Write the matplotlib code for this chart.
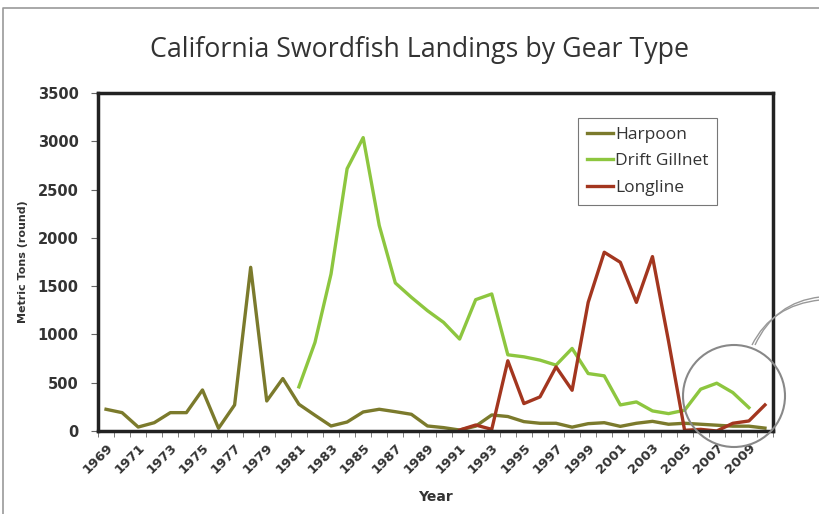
import matplotlib.pyplot as plt
import numpy as np
from matplotlib.patches import Circle, PathPatch
from matplotlib.path import Path
from matplotlib.lines import Line2D

years = list(range(1969, 2011))

harpoon = [225, 190, 41, 86, 190, 190, 425, 28, 270, 1695, 311, 543, 277, 163,
           52, 93, 197, 225, 200, 173, 52, 35, 10, 50, 166, 150, 97, 80, 80,
           40, 76, 86, 48, 80, 100, 70, 80, 70, 60, 50, 50, 30]

gill_years = list(range(1981, 2010))
gillnet = [457, 917, 1626, 2716, 3038, 2128, 1533, 1384, 1246, 1125, 952,
           1360, 1419, 789, 768, 734, 682, 855, 595, 571, 270, 301, 208, 180,
           215, 433, 495, 398, 242]

long_years = list(range(1991, 2011))
longline = [10, 62, 17, 727, 284, 353, 664, 422, 1332, 1851, 1747, 1332, 1806,
            930, 7, 17, 0, 80, 104, 270]

c_harpoon = '#7b7a2c'
c_gill = '#8dc63f'
c_long = '#a3361f'

W, H = 820, 514
fig = plt.figure(figsize=(8.2, 5.14), dpi=100)
ax = fig.add_axes([98 / W, 1 - 431 / H, 675 / W, 338 / H])

ax.plot(years, harpoon, color=c_harpoon, lw=2.4, label='Harpoon')
ax.plot(gill_years, gillnet, color=c_gill, lw=2.4, label='Drift Gillnet')
ax.plot(long_years, longline, color=c_long, lw=2.4, label='Longline')

ax.set_xlim(1968.5, 2010.5)
ax.set_ylim(0, 3500)
ax.set_yticks(range(0, 3501, 500))
ax.set_xticks(range(1969, 2011, 2))
ax.set_xticklabels([str(y) for y in range(1969, 2011, 2)], rotation=45,
                   ha='right', va='top', rotation_mode='anchor',
                   fontsize=9.5, fontweight='bold', color='#333333')
ax.set_xticks(np.arange(1968.5, 2011, 1), minor=True)
ax.tick_params(axis='x', which='major', length=0, pad=7)
ax.tick_params(axis='x', which='minor', length=4, color='#666666', direction='out')
ax.tick_params(axis='y', length=5, color='#666666', direction='out', pad=9)
for lab in ax.get_yticklabels():
    lab.set_fontweight('bold')
    lab.set_fontsize(10.5)
    lab.set_color('#333333')

for s in ax.spines.values():
    s.set_linewidth(2.5)
    s.set_color('#222222')

ax.set_ylabel('Metric Tons (round)', fontsize=8, fontweight='bold', color='#333333')
ax.yaxis.set_label_coords(-0.104, 0.5)
ax.set_xlabel('Year', fontsize=10, fontweight='bold', color='#333333', labelpad=10)

leg = ax.legend(loc='upper left', bbox_to_anchor=(0.711, 0.926), frameon=True,
                fancybox=False, handlelength=1.5, handletextpad=0.15,
                borderpad=0.5, labelspacing=0.6, borderaxespad=0,
                prop={'family': 'Open Sans', 'size': 12.5})
leg.get_frame().set_edgecolor('#555555')
leg.get_frame().set_linewidth(0.8)
for t in leg.get_texts():
    t.set_color('#333333')

fig.text(0.512, 1 - 50 / H, 'California Swordfish Landings by Gear Type',
         ha='center', va='center', fontsize=19.3, color='#333333', family='Open Sans')

# callout circle and connector (pixel coords, origin bottom-left)
fig.patches.append(Circle((734, H - 396), 51, transform=None, fill=False,
                          edgecolor='#888888', lw=1.5, zorder=10))
for off in (0, 3):
    verts = [(752 + off, H - 345), (772 + off, H - 305 + off), (820, H - 300 + off)]
    fig.patches.append(PathPatch(Path(verts, [Path.MOVETO, Path.CURVE3, Path.CURVE3]),
                                 transform=None, fill=False, edgecolor='#999999', lw=1.0))

# page border
fig.lines.append(Line2D([3 / W, 3 / W, 1.0], [0.0, 1 - 8 / H, 1 - 8 / H],
                        transform=fig.transFigure, color='#999999', lw=1.2))

fig.savefig('out.png', dpi=100)
